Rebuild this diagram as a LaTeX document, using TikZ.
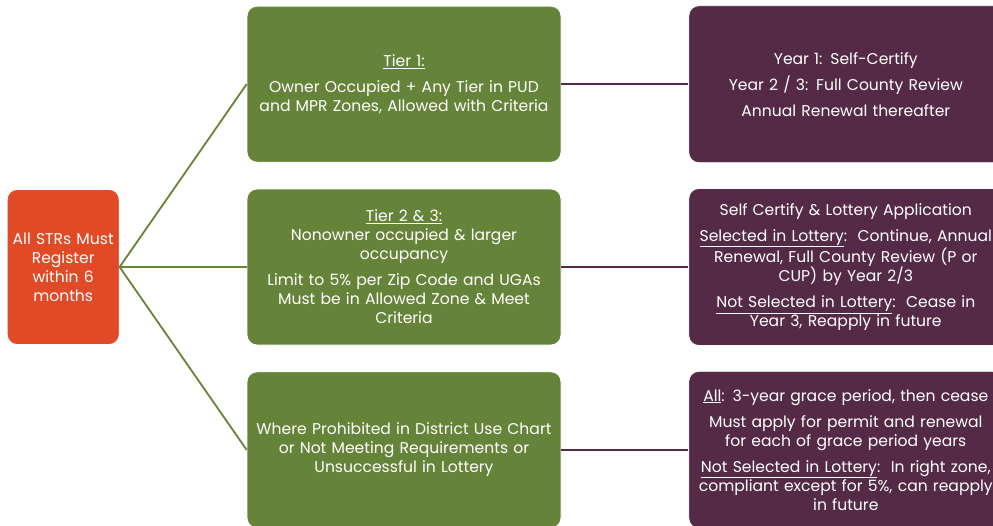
\documentclass[tikz,border=0pt]{standalone}
\usepackage{fontspec}
\setmainfont{Poppins}
\usetikzlibrary{positioning}

\definecolor{regred}{RGB}{224,74,38}
\definecolor{tiergreen}{RGB}{102,132,57}
\definecolor{rulepurple}{RGB}{85,42,70}

\begin{document}
\begin{tikzpicture}[
      x=1pt, y=-1pt,
      font=\fontsize{15.6}{19}\selectfont,
      node distance=26pt and 127pt,
      box/.style={
        draw=white,
        line width=0.8pt,
        rounded corners=10pt,
        text=white,
        align=center,
        inner sep=0pt
      },
      regbox/.style={box, fill=regred, minimum width=112pt, minimum height=155pt, text width=110pt},
      tierbox/.style={box, fill=tiergreen, minimum width=314pt, minimum height=156pt, text width=312pt},
      rulebox/.style={box, fill=rulepurple, minimum width=314pt, minimum height=157pt, text width=312pt},
      tierline/.style={draw=tiergreen, line width=1.8pt},
      ruleline/.style={draw=rulepurple, line width=1.8pt}
    ]
    \clip (0,0) rectangle (993,525);

    % Tier boxes, middle one first
    \node[tierbox] (tiertwo) at (404,267) {\underline{Tier 2 \& 3:}\\
      Nonowner occupied \& larger\\ occupancy\\[7pt]
      Limit to 5\% per Zip Code and UGAs\\ Must be in Allowed Zone \& Meet\\ Criteria};
    \node[tierbox, above=of tiertwo] (tierone) {\underline{Tier 1:}\\[7pt]
      Owner Occupied + Any Tier in PUD\\ and MPR Zones, Allowed with Criteria};
    \node[tierbox, below=of tiertwo] (tierthree) {Where Prohibited in District Use Chart\\
      or Not Meeting Requirements or\\ Unsuccessful in Lottery};

    % Registration box
    \node[regbox, left=of tiertwo] (register) {All STRs Must\\ Register\\ within 6\\ months};

    % Rule boxes
    \node[rulebox, right=of tierone] (ruleone) {Year 1: Self-Certify\\[7pt]
      Year 2 / 3: Full County Review\\[7pt] Annual Renewal thereafter};
    \node[rulebox, right=of tiertwo] (ruletwo) {Self Certify \& Lottery Application\\[7pt]
      \underline{Selected in Lottery}:\ \ Continue, Annual\\ Renewal, Full County Review (P or\\ CUP) by Year 2/3\\[7pt]
      \underline{Not Selected in Lottery}:\ \ Cease in\\ Year 3, Reapply in future};
    \node[rulebox, right=of tierthree] (rulethree) {\underline{All}: 3-year grace period, then cease\\[7pt]
      Must apply for permit and renewal\\ for each of grace period years\\[7pt]
      \underline{Not Selected in Lottery}:\ \ In right zone,\\ compliant except for 5\%, can reapply\\ in future};

    % Connectors
    \draw[tierline] (register.east) -- (tierone.west);
    \draw[tierline] (register.east) -- (tiertwo.west);
    \draw[tierline] (register.east) -- (tierthree.west);
    \draw[ruleline] (tierone) -- (ruleone);
    \draw[ruleline] (tiertwo) -- (ruletwo);
    \draw[ruleline] (tierthree) -- (rulethree);

  \end{tikzpicture}
\end{document}
